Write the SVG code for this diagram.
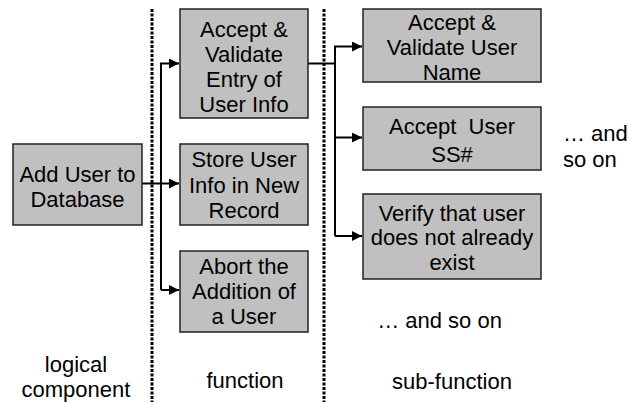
<svg xmlns="http://www.w3.org/2000/svg" width="629" height="402" viewBox="0 0 629 402">
<defs>
<marker id="arr" viewBox="0 0 10 10" refX="10" refY="5" markerWidth="10" markerHeight="10" markerUnits="userSpaceOnUse" orient="auto">
<path d="M0,0 L10,5 L0,10 Z" fill="#000"/>
</marker>
<style>
.box{fill:#c0c0c0;stroke:#222;stroke-width:1.5}
.t{font-family:"Liberation Sans",Arial,sans-serif;font-size:22px;fill:#000;text-anchor:middle}
.tl{font-family:"Liberation Sans",Arial,sans-serif;font-size:22px;fill:#000}
.sep{stroke:#000;stroke-width:3;stroke-dasharray:3,1.5;fill:none}
.c{stroke:#000;stroke-width:2;fill:none}
</style>
</defs>
<rect width="629" height="402" fill="#fff"/>
<g id="separators">
<line class="sep" x1="152" y1="9" x2="152" y2="402"/>
<line class="sep" x1="324" y1="9" x2="324" y2="402"/>
</g>
<g id="connectors">
<path class="c" d="M142,183.5 H179" marker-end="url(#arr)"/>
<path class="c" d="M161,290 V63.5 H179" marker-end="url(#arr)"/>
<path class="c" d="M161,290 H179" marker-end="url(#arr)"/>
<path class="c" d="M308,63.5 H335"/>
<path class="c" d="M335,236 V46.5 H362" marker-end="url(#arr)"/>
<path class="c" d="M335,137.5 H362" marker-end="url(#arr)"/>
<path class="c" d="M335,236 H362" marker-end="url(#arr)"/>
</g>
<g id="add-user">
<rect class="box" x="13" y="144" width="129" height="81"/>
<text class="t" x="77.5" y="181.5">Add User to</text>
<text class="t" x="77.5" y="206.5">Database</text>
</g>
<g id="accept-validate-entry">
<rect class="box" x="180" y="9" width="128" height="109"/>
<text class="t" x="244" y="37">Accept &amp;</text>
<text class="t" x="244" y="62">Validate</text>
<text class="t" x="244" y="87">Entry of</text>
<text class="t" x="244" y="112">User Info</text>
</g>
<g id="store-user-info">
<rect class="box" x="180" y="144" width="128" height="81"/>
<text class="t" x="244" y="167">Store User</text>
<text class="t" x="244" y="192.5">Info in New</text>
<text class="t" x="244" y="218">Record</text>
</g>
<g id="abort-addition">
<rect class="box" x="180" y="251" width="128" height="81"/>
<text class="t" x="244" y="274">Abort the</text>
<text class="t" x="244" y="299">Addition of</text>
<text class="t" x="244" y="324">a User</text>
</g>
<g id="accept-validate-name">
<rect class="box" x="363" y="9" width="178" height="73"/>
<text class="t" x="452" y="30">Accept &amp;</text>
<text class="t" x="452" y="55">Validate User</text>
<text class="t" x="452" y="80">Name</text>
</g>
<g id="accept-ss">
<rect class="box" x="363" y="107" width="178" height="63"/>
<text class="t" x="452" y="134" xml:space="preserve">Accept  User</text>
<text class="t" x="452" y="162">SS#</text>
</g>
<g id="verify-user">
<rect class="box" x="363" y="194" width="178" height="85"/>
<text class="t" x="452" y="220.5">Verify that user</text>
<text class="t" x="452" y="245">does not already</text>
<text class="t" x="452" y="270">exist</text>
</g>
<g id="labels">
<text class="tl" x="563" y="141">… and</text>
<text class="tl" x="563" y="167">so on</text>
<text class="t" x="439.5" y="328">… and so on</text>
<text class="t" x="76" y="372">logical</text>
<text class="t" x="76" y="397">component</text>
<text class="t" x="245" y="388">function</text>
<text class="t" x="452" y="389">sub-function</text>
</g>
</svg>
